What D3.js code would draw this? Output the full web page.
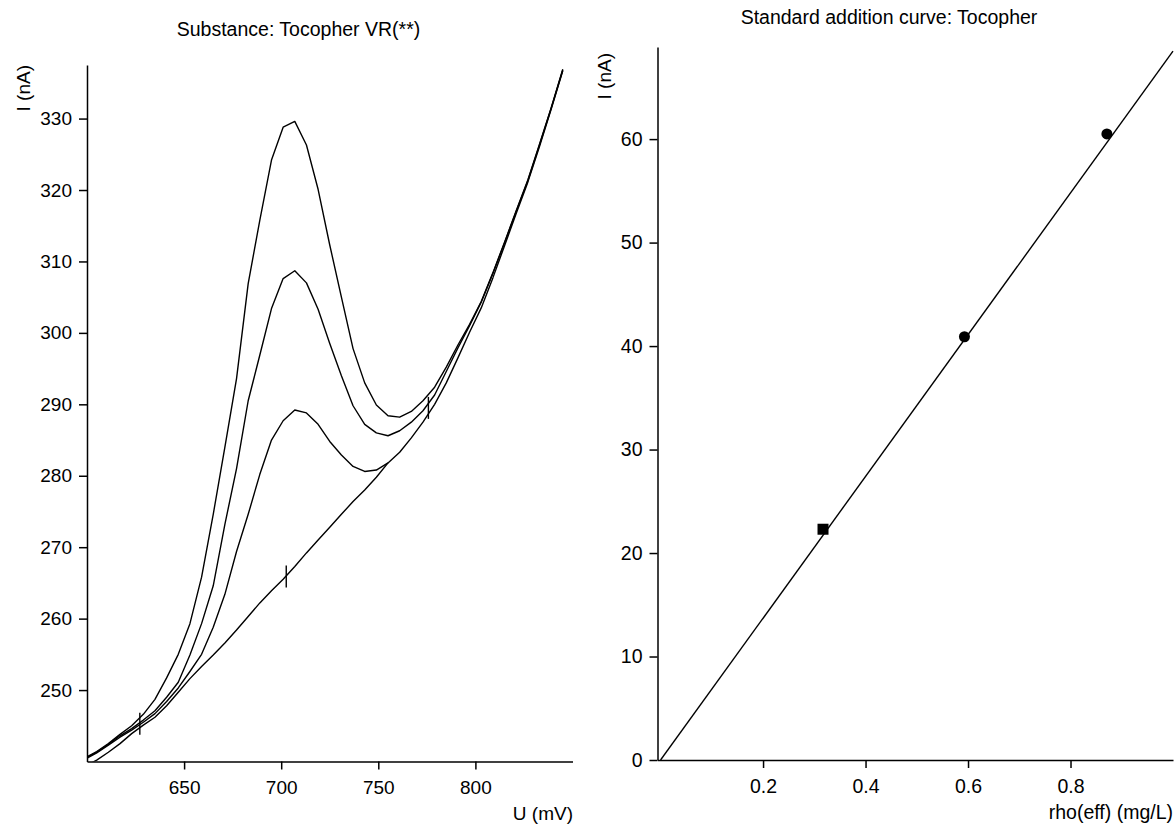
<!DOCTYPE html>
<html>
<head>
<meta charset="utf-8">
<script src="https://cdn.jsdelivr.net/npm/d3@7"></script>
<style>
  body { margin: 0; background: #fff; }
  svg { display: block; font-family: "Liberation Sans", Arial, sans-serif; }
  .axis path, .axis line { stroke: #000; stroke-width: 1.5; }
  .axis text { fill: #000; }
  .curve { fill: none; stroke: #000; stroke-width: 1.4; stroke-linejoin: round; }
</style>
</head>
<body>
<div id="wrapper"></div>
<script>
// voltammograms, one reading every 6 mV
const potentials = [599, 605, 611, 617, 623, 629, 635, 641, 647, 653, 659, 665, 671, 677,
  683, 689, 695, 701, 707, 713, 719, 725, 731, 737, 743, 749, 755, 761, 767, 773, 779, 785,
  791, 797, 803, 809, 815, 821, 827, 833, 839, 845]
const currentA = [240.5, 241.4, 242.5, 243.8, 245.0, 246.6, 248.7, 251.7, 255.0, 259.3, 265.8,
  274.6, 284.0, 293.6, 306.9, 315.8, 324.2, 328.8, 329.6, 326.3, 320.1, 312.3, 305.0, 297.8,
  293.0, 289.9, 288.4, 288.2, 289.0, 290.5, 292.4, 295.2, 298.3, 301.2, 304.4, 308.4, 312.7,
  317.1, 321.4, 326.4, 331.5, 336.9]
const currentB = [240.4, 241.3, 242.4, 243.6, 244.6, 245.8, 247.1, 249.0, 251.1, 254.9, 259.3,
  264.6, 273.2, 281.0, 290.5, 296.9, 303.4, 307.6, 308.7, 307.0, 303.3, 298.5, 294.0, 289.8,
  287.2, 286.0, 285.6, 286.3, 287.5, 289.1, 291.3, 294.6, 297.9, 301.0, 304.3, 308.3, 312.6,
  317.0, 321.3, 326.3, 331.4, 336.8]
const currentC = [240.3, 241.2, 242.3, 243.4, 244.4, 245.5, 246.7, 248.4, 250.3, 252.6, 255.0,
  258.8, 263.4, 269.4, 274.6, 280.2, 285.0, 287.7, 289.2, 288.8, 287.2, 284.8, 282.9, 281.3,
  280.6, 280.8, 281.8, 283.3, 285.3, 287.5, 290.0, 293.0, 296.5, 300.1, 303.5, 307.7, 312.2,
  316.7, 321.1, 326.1, 331.3, 336.7]
// baseline only runs up to 755 mV
const baselineI = [239.3, 240.2, 241.3, 242.5, 243.9, 245.1, 246.2, 247.8, 249.7, 251.6, 253.3,
  254.9, 256.6, 258.4, 260.3, 262.2, 263.9, 265.5, 267.3, 269.2, 271.0, 272.8, 274.6, 276.4,
  278.0, 279.8, 281.8]
const markerU = [627.2, 702.6, 775.8]
const markerI = [245.3, 265.9, 289.5]
const uTicks = [650, 700, 750, 800]
const iTicks = [250, 260, 270, 280, 290, 300, 310, 320, 330]

// standard addition
const rhoEff = [0.317, 0.593, 0.871]
const peakCurrent = [22.3, 40.9, 60.5]
const pointKind = ['sample', 'addition', 'addition']
const fitSlope = 68.5
const fitIntercept = 0
const rhoTicks = [0.2, 0.4, 0.6, 0.8]
const addTicks = [0, 10, 20, 30, 40, 50, 60]

function drawCharts() {

  const width = 1176
  const height = 824

  const wrapper = d3.select('#wrapper')
    .append('svg')
      .attr('width', width)
      .attr('height', height)

  const defs = wrapper.append('defs')

  // ---------- left: voltammograms ----------
  const left = { x0: 87, x1: 572.5, y0: 761.5, y1: 65 }

  const uScale = d3.scaleLinear()
    .domain([600, 850])
    .range([left.x0, left.x1])
  const iScale = d3.scaleLinear()
    .domain([240, 337.5])
    .range([left.y0, left.y1])

  defs.append('clipPath').attr('id', 'clip-left')
    .append('rect')
      .attr('x', left.x0).attr('y', left.y1)
      .attr('width', left.x1 - left.x0).attr('height', left.y0 - left.y1)

  const voltLine = d3.line()
    .x(d => uScale(d[0]))
    .y(d => iScale(d[1]))

  const curves = [currentA, currentB, currentC].map(c => potentials.map((u, k) => [u, c[k]]))
  curves.push(baselineI.map((v, k) => [potentials[k], v]))

  const leftPlot = wrapper.append('g').attr('clip-path', 'url(#clip-left)')
  leftPlot.selectAll('.curve')
    .data(curves)
    .join('path')
      .attr('class', 'curve')
      .attr('d', voltLine)

  wrapper.append('g').selectAll('line')
    .data(markerU)
    .join('line')
      .attr('x1', d => uScale(d))
      .attr('x2', d => uScale(d))
      .attr('y1', (d, k) => iScale(markerI[k]) - 11)
      .attr('y2', (d, k) => iScale(markerI[k]) + 11)
      .attr('stroke', '#000')
      .attr('stroke-width', 1.4)

  wrapper.append('g')
      .attr('class', 'axis')
      .attr('transform', `translate(0,${left.y0})`)
      .call(d3.axisBottom(uScale).tickValues(uTicks).tickSize(8).tickSizeOuter(0).tickPadding(11))
      .call(g => g.selectAll('text').style('font-size', '19px'))

  wrapper.append('g')
      .attr('class', 'axis')
      .attr('transform', `translate(${left.x0},0)`)
      .call(d3.axisLeft(iScale).tickValues(iTicks).tickSize(8).tickSizeOuter(0).tickPadding(7))
      .call(g => g.selectAll('text').style('font-size', '19px'))

  wrapper.append('text')
      .attr('x', 298.5).attr('y', 36)
      .attr('text-anchor', 'middle')
      .style('font-size', '19.5px')
      .text('Substance: Tocopher VR(**)')

  wrapper.append('text')
      .attr('transform', `translate(30,${left.y1}) rotate(-90)`)
      .attr('text-anchor', 'end')
      .style('font-size', '19px')
      .text('I (nA)')

  wrapper.append('text')
      .attr('x', 573).attr('y', 820)
      .attr('text-anchor', 'end')
      .style('font-size', '19px')
      .text('U (mV)')

  // ---------- right: standard addition curve ----------
  const right = { x0: 657.5, x1: 1173, y0: 760, y1: 47 }

  const rhoScale = d3.scaleLinear()
    .domain([-0.006, 1.0])
    .range([right.x0, right.x1])
  const addScale = d3.scaleLinear()
    .domain([0, 68.9])
    .range([right.y0, right.y1])

  defs.append('clipPath').attr('id', 'clip-right')
    .append('rect')
      .attr('x', right.x0).attr('y', right.y1)
      .attr('width', right.x1 - right.x0 + 4).attr('height', right.y0 - right.y1)

  const fitLine = [0, 1.0].map(x => [x, fitIntercept + fitSlope * x])

  wrapper.append('g').attr('clip-path', 'url(#clip-right)')
    .append('path')
      .attr('class', 'curve')
      .attr('d', d3.line().x(d => rhoScale(d[0])).y(d => addScale(d[1]))(fitLine))

  const points = wrapper.append('g')
  points.selectAll('rect')
    .data(rhoEff.filter((d, k) => pointKind[k] === 'sample'))
    .join('rect')
      .attr('x', d => rhoScale(d) - 5.5)
      .attr('y', d => addScale(peakCurrent[rhoEff.indexOf(d)]) - 5.5)
      .attr('width', 11)
      .attr('height', 11)
  points.selectAll('circle')
    .data(rhoEff.filter((d, k) => pointKind[k] === 'addition'))
    .join('circle')
      .attr('cx', d => rhoScale(d))
      .attr('cy', d => addScale(peakCurrent[rhoEff.indexOf(d)]))
      .attr('r', 5.5)

  wrapper.append('g')
      .attr('class', 'axis')
      .attr('transform', `translate(0,${right.y0})`)
      .call(d3.axisBottom(rhoScale).tickValues(rhoTicks).tickFormat(d3.format('.1f')).tickSize(8).tickSizeOuter(0).tickPadding(11))
      .call(g => g.selectAll('text').style('font-size', '19.5px'))

  wrapper.append('g')
      .attr('class', 'axis')
      .attr('transform', `translate(${right.x0},0)`)
      .call(d3.axisLeft(addScale).tickValues(addTicks).tickSize(8).tickSizeOuter(0).tickPadding(7))
      .call(g => g.selectAll('text').style('font-size', '19.5px'))

  wrapper.append('text')
      .attr('x', 889).attr('y', 24)
      .attr('text-anchor', 'middle')
      .style('font-size', '19.5px')
      .text('Standard addition curve: Tocopher')

  wrapper.append('text')
      .attr('transform', `translate(611,53) rotate(-90)`)
      .attr('text-anchor', 'end')
      .style('font-size', '19px')
      .text('I (nA)')

  wrapper.append('text')
      .attr('x', 1173).attr('y', 819)
      .attr('text-anchor', 'end')
      .style('font-size', '19.5px')
      .text('rho(eff) (mg/L)')
}
drawCharts()
</script>
</body>
</html>
